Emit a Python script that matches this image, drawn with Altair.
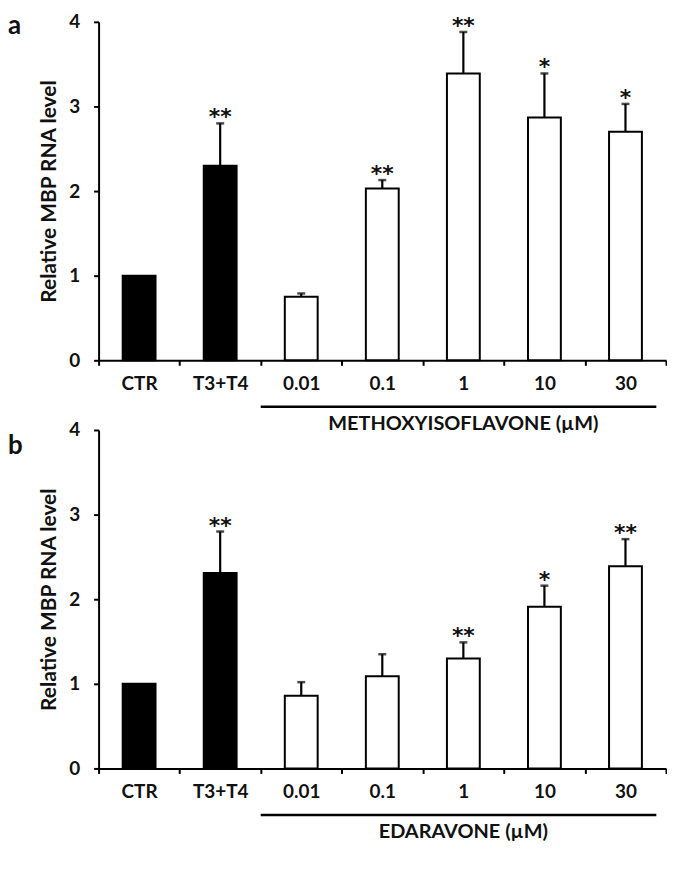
import altair as alt
import pandas as pd

categories = ["CTR", "T3+T4", "0.01", "0.1", "1", "10", "30"]
groups = ["control", "control", "drug", "drug", "drug", "drug", "drug"]

a_values = [1.0, 2.30, 0.75, 2.03, 3.39, 2.87, 2.70]
a_errors = [0.0, 0.50, 0.04, 0.10, 0.49, 0.52, 0.33]
a_stars = ["", "**", "", "**", "**", "*", "*"]

b_values = [1.0, 2.31, 0.86, 1.09, 1.30, 1.91, 2.39]
b_errors = [0.0, 0.49, 0.16, 0.26, 0.19, 0.25, 0.32]
b_stars = ["", "**", "", "", "**", "*", "**"]

y_ticks = [0, 1, 2, 3, 4]
y_title = "Relative MBP RNA level"

FONT = "Lato"
W, H = 570, 340

x_scale = alt.Scale(domain=categories, paddingInner=0, paddingOuter=0)
y_scale = alt.Scale(domain=[0, 4], nice=False, zero=True)


def panel(letter, letter_y, values, errors, stars, drug):
    df = pd.DataFrame({"cat": categories, "group": groups, "value": values,
                       "err": errors, "stars": stars})
    df["top"] = df["value"] + df["err"]
    base = alt.Chart(df)
    x_enc = alt.X("cat:N", scale=x_scale,
                  axis=alt.Axis(title=None, labelAngle=0, tickBand="extent",
                                labelPadding=9))
    y_enc = alt.Y("value:Q", scale=y_scale,
                  axis=alt.Axis(values=y_ticks, title=y_title, grid=False,
                                labelPadding=14, titlePadding=9, format="d"))
    bars = base.mark_bar(size=33, stroke="black", strokeWidth=2).encode(
        x=x_enc, y=y_enc,
        fill=alt.Fill("group:N", scale=alt.Scale(domain=["control", "drug"],
                                                 range=["black", "white"]),
                      legend=None),
    )
    err = base.transform_filter("datum.err > 0")
    rules = err.mark_rule(strokeWidth=2.2, color="black").encode(
        x=alt.X("cat:N", scale=x_scale), y=alt.Y("value:Q", scale=y_scale),
        y2="top:Q")
    caps = err.mark_tick(size=8, thickness=2.5, color="black").encode(
        x=alt.X("cat:N", scale=x_scale), y=alt.Y("top:Q", scale=y_scale))
    star_txt = base.transform_filter("datum.stars != ''").mark_text(
        font="DejaVu Sans", fontWeight="bold", fontSize=22, baseline="alphabetic",
        dy=1, color="#111").encode(
        x=alt.X("cat:N", scale=x_scale), y=alt.Y("top:Q", scale=y_scale),
        text="stars:N")

    ann = pd.DataFrame({"start": ["0.01"], "end": ["30"], "mid": ["1"],
                        "label": [drug]})
    abase = alt.Chart(ann)
    line = abase.mark_rule(strokeWidth=2.5, color="black", x2Offset=31).encode(
        x=alt.X("start:N", scale=x_scale, bandPosition=0),
        x2=alt.X2("end:N"),
        y=alt.datum(-0.55),
    )
    label = abase.mark_text(font=FONT, fontWeight="bold", fontSize=20,
                            color="#111", baseline="middle").encode(
        x=alt.X("mid:N", scale=x_scale),
        y=alt.datum(-0.75),
        text="label:N",
    )
    let = alt.Chart(pd.DataFrame({"t": [letter]})).mark_text(
        font=FONT, fontWeight="bold", fontSize=26, align="left",
        baseline="alphabetic", color="#111").encode(
        x=alt.value(-91), y=alt.value(letter_y), text="t:N")

    return alt.layer(bars, rules, caps, star_txt, line, label, let).properties(
        width=W, height=H)


pa = panel("a", 12, a_values, a_errors, a_stars, "METHOXYISOFLAVONE (\u00b5M)")
pb = panel("b", 24, b_values, b_errors, b_stars, "EDARAVONE (\u00b5M)")

chart = alt.vconcat(pa, pb, spacing=70, bounds="flush").properties(
    padding={"left": 0, "top": 3, "right": 0, "bottom": 0}
).configure_view(stroke=None).configure_axis(
    labelFont=FONT, labelFontWeight="bold", labelFontSize=19, labelColor="#111",
    titleFont=FONT, titleFontWeight="bold", titleFontSize=21, titleColor="#111",
    domainColor="black", domainWidth=2, tickColor="black", tickWidth=2,
    tickSize=5,
)

chart.save("out.html", embed_options={"renderer": "svg", "actions": False})
